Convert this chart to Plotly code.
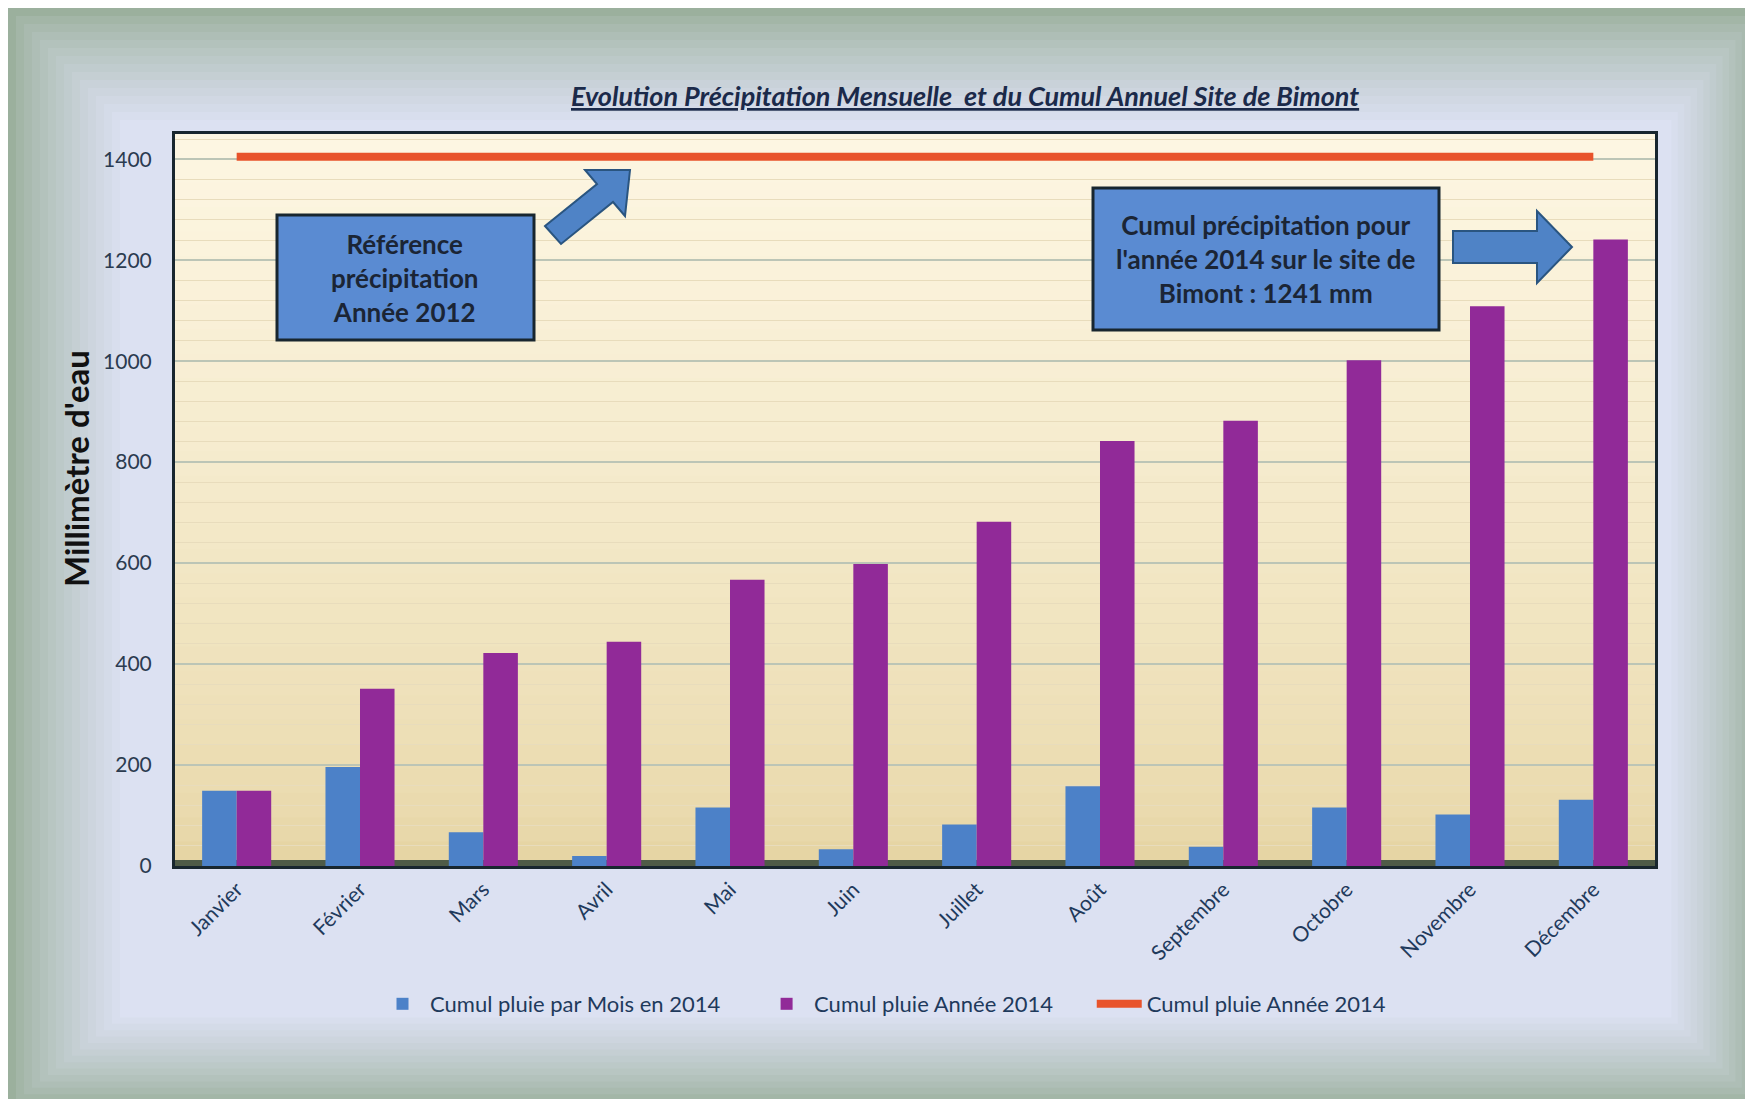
import plotly.graph_objects as go

mois = ["Janvier", "Février", "Mars", "Avril", "Mai", "Juin", "Juillet",
        "Août", "Septembre", "Octobre", "Novembre", "Décembre"]
pluie_mois = [149, 196, 67, 20, 116, 33, 82, 158, 38, 116, 102, 131]
pluie_cumul = [149, 351, 422, 444, 567, 598, 682, 842, 882, 1002, 1109, 1241]
reference_2012 = [1405] * 12

# page offset (html body margin) and plot area in figure pixels
OFF = 8
W, H = 1753, 1099
L, R, T, B = 175 - OFF, 1655 - OFF, 134 - OFF, 866 - OFF


def px(x):
    # x given in page pixels
    return (x - OFF - L) / (R - L)


def py(y):
    return (B - (y - OFF)) / (B - T)


def mix(c1, c2, t):
    a = [int(c1[i:i + 2], 16) for i in (1, 3, 5)]
    b = [int(c2[i:i + 2], 16) for i in (1, 3, 5)]
    return "#" + "".join(f"{round(a[k] + (b[k] - a[k]) * t):02x}" for k in range(3))


def poly(points):
    return "M " + " L ".join(f"{px(x):.5f},{py(y):.5f}" for x, y in points) + " Z"


FONT = "Lato"
BLUE = "#4c81c8"
PURPLE = "#912a98"
RED = "#e8532b"
TXT = "#1f3a5c"
PAD = "\u00a0" * 6

fig = go.Figure()
fig.add_trace(go.Bar(x=mois, y=pluie_mois, name="Cumul pluie par Mois en 2014" + PAD,
                     marker=dict(color=BLUE, line=dict(width=0))))
fig.add_trace(go.Bar(x=mois, y=pluie_cumul, name="Cumul pluie Année 2014" + PAD,
                     marker=dict(color=PURPLE, line=dict(width=0))))
fig.add_trace(go.Scatter(x=mois, y=reference_2012, name="Cumul pluie Année 2014",
                         mode="lines", line=dict(color=RED, width=8)))

shapes = []
# outer frame gradient (greenish edges to lavender centre)
steps = 14
for i in range(steps + 1):
    d = i * 8
    shapes.append(dict(type="rect", xref="paper", yref="paper", layer="below",
                       x0=px(OFF + d), x1=px(W + OFF - d * 0.8),
                       y0=py(OFF + d), y1=py(H + OFF - d * 0.8),
                       line=dict(width=0),
                       fillcolor=mix("#9bb09d", "#dce1f2", (i / steps) ** 0.8)))
# plot area gradient (cream to tan)
bands = 30
for i in range(bands):
    shapes.append(dict(type="rect", xref="x domain", yref="y domain", layer="below",
                       x0=0, x1=1, y0=i / bands, y1=(i + 1) / bands + 0.002,
                       line=dict(width=0),
                       fillcolor=mix("#e6d5a4", "#fdf6e2", (i / (bands - 1)) ** 0.7)))
# floor band
shapes.append(dict(type="line", xref="x domain", yref="y domain", layer="below",
                   x0=0, x1=1, y0=0.004, y1=0.004, line=dict(color="#4f5b47", width=6)))
# annotation boxes
for x0, y0, x1, y1 in [(277, 215, 534, 340), (1093, 188, 1439, 330)]:
    shapes.append(dict(type="rect", xref="paper", yref="paper", layer="above",
                       x0=px(x0), x1=px(x1), y0=py(y1), y1=py(y0),
                       fillcolor="#5a8bd2", line=dict(color="#18262f", width=3)))
# block arrows
arrow_style = dict(type="path", xref="paper", yref="paper", layer="above",
                   fillcolor="#4f83c6", line=dict(color="#2a5580", width=2))
shapes.append(dict(arrow_style, path=poly([(545, 226), (597, 184), (585, 170), (630, 170),
                                           (625, 216), (613, 202), (561, 244)])))
shapes.append(dict(arrow_style, path=poly([(1453, 231), (1537, 231), (1537, 211), (1572, 247),
                                           (1537, 283), (1537, 263), (1453, 263)])))

centre = dict(xref="paper", yref="paper", showarrow=False, xanchor="center", yanchor="middle")
annotations = [
    dict(centre, text="<b><i><u>Evolution Précipitation Mensuelle  et du Cumul Annuel Site de Bimont</u></i></b>",
         x=px(965), y=py(95), font=dict(family=FONT, size=27, color="#1b2a4a")),
    dict(centre, text="<b>Millimètre d'eau</b>", textangle=-90,
         x=px(76), y=py(469), font=dict(family=FONT, size=33, color="#111111")),
    dict(centre, text="<b>Référence<br>précipitation<br>Année 2012</b>",
         x=px(405), y=py(278), align="center",
         font=dict(family=FONT, size=26, color="#1b2535")),
    dict(centre, text="<b>Cumul précipitation pour<br>l'année 2014 sur le site de<br>Bimont : 1241 mm</b>",
         x=px(1266), y=py(259), align="center",
         font=dict(family=FONT, size=26, color="#1b2535")),
]

fig.update_layout(
    width=W, height=H,
    margin=dict(l=L, r=W - R, t=T, b=H - B),
    paper_bgcolor="#dce1f2",
    plot_bgcolor="rgba(0,0,0,0)",
    barmode="group", bargap=0.44, bargroupgap=0,
    shapes=shapes, annotations=annotations,
    showlegend=True,
    legend=dict(orientation="h", x=px(883), y=py(1004), xanchor="center", yanchor="middle",
                itemwidth=45,
                font=dict(family=FONT, size=22, color=TXT), bgcolor="rgba(0,0,0,0)"),
    xaxis=dict(tickangle=-45, tickfont=dict(family=FONT, size=21, color=TXT),
               showgrid=False, showline=True, linecolor="#18262f", linewidth=3, mirror=True,
               ticks=""),
    yaxis=dict(range=[0, 1450], tickvals=[0, 200, 400, 600, 800, 1000, 1200, 1400],
               tickfont=dict(family=FONT, size=21, color="#2b3b50"),
               showgrid=True, gridcolor="#bcc5b6", gridwidth=1.5,
               minor=dict(dtick=40, showgrid=True, gridcolor="#e8dcbc", gridwidth=1),
               showline=True, linecolor="#18262f", linewidth=3, mirror=True,
               ticks="outside", ticklen=16, tickcolor="rgba(0,0,0,0)", zeroline=False),
    font=dict(family=FONT),
)

fig.write_html("out.html")
